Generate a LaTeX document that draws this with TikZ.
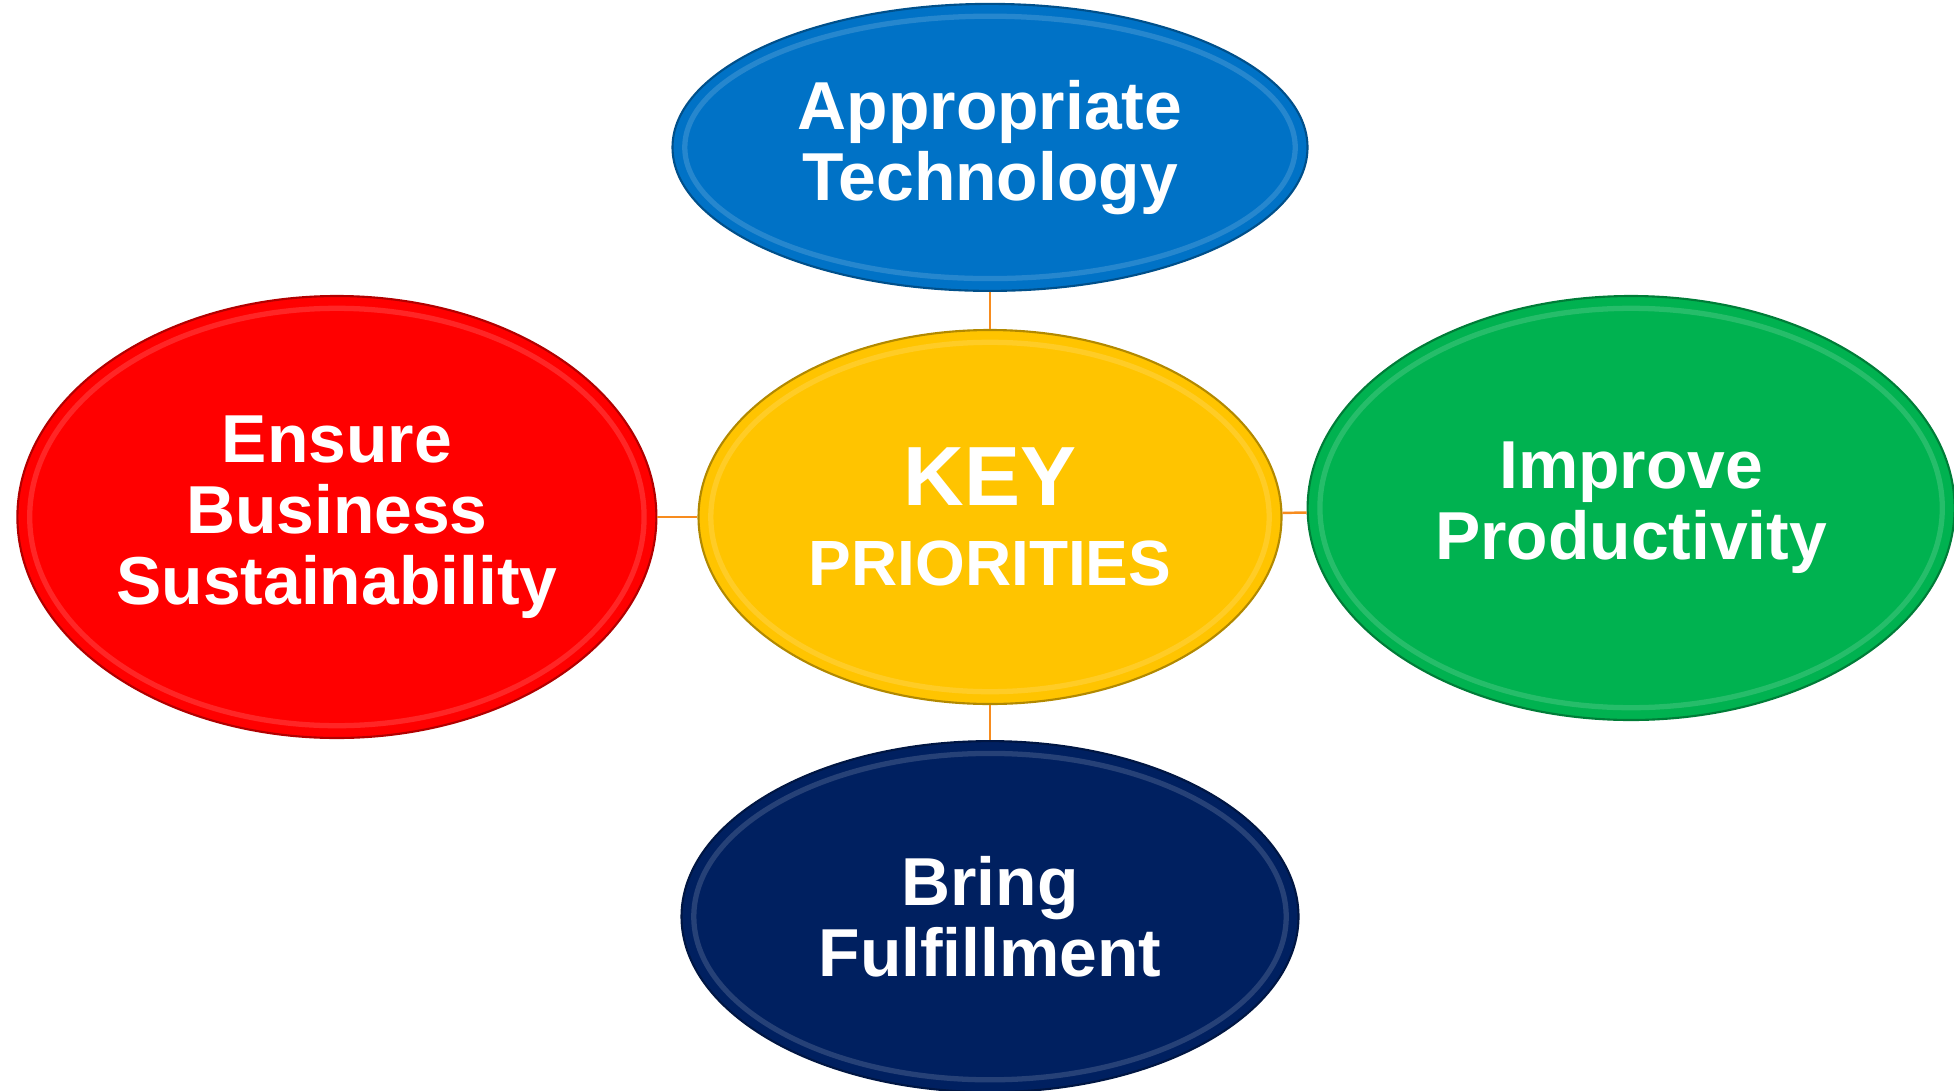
\documentclass[tikz,border=0pt]{standalone}
\usepackage{fontspec}
\setmainfont{Liberation Sans}
\usetikzlibrary{shapes.geometric,positioning,calc}

\definecolor{techblue}{RGB}{0,114,198}
\definecolor{sustred}{RGB}{255,0,0}
\definecolor{keygold}{RGB}{255,196,0}
\definecolor{prodgreen}{RGB}{0,178,80}
\definecolor{fulfnavy}{RGB}{0,32,96}
\definecolor{linkorange}{RGB}{247,140,30}

\begin{document}
\begin{tikzpicture}[
    prio/.style={ellipse, fill=#1, draw=#1!70!black, line width=0.6pt, inner sep=0pt,
      text=white, align=center, font=\bfseries\fontsize{19.3}{20.2}\selectfont,
      path picture={\draw[white, opacity=0.15, line width=1.5pt]
        let \p1=($(path picture bounding box.north east)-(path picture bounding box.center)$)
        in (path picture bounding box.center) ellipse ({\x1-3.5pt} and {\y1-3.5pt});}},
    link/.style={draw=linkorange, line width=0.7pt}
  ]
  \useasboundingbox (0,0) rectangle (19.54,10.90);

  \node[prio=keygold, minimum width=5.83cm, minimum height=3.74cm,
    font=\bfseries\fontsize{18.2}{22.8}\selectfont] (key) at (9.90,5.73)
    {{\fontsize{23.9}{22.8}\selectfont KEY}\\PRIORITIES};
  \node[prio=techblue, minimum width=6.35cm, minimum height=2.87cm] [above=0.37cm of key] (tech) {Appropriate\\Technology};
  \node[prio=sustred, minimum width=6.39cm, minimum height=4.42cm] [left=0.40cm of key] (sust) {Ensure\\Business\\Sustainability};
  \node[prio=prodgreen, minimum width=6.47cm, minimum height=4.24cm] [right=0.24cm of key, yshift=0.09cm] (prod) {Improve\\Productivity};
  \node[prio=fulfnavy, minimum width=6.17cm, minimum height=3.51cm] [below=0.35cm of key] (fulf) {Bring\\Fulfillment};

  \path[link]
    (tech) edge (key)
    (sust) edge (key)
    (key) edge (prod)
    (key) edge (fulf)
    ;
\end{tikzpicture}
\end{document}
